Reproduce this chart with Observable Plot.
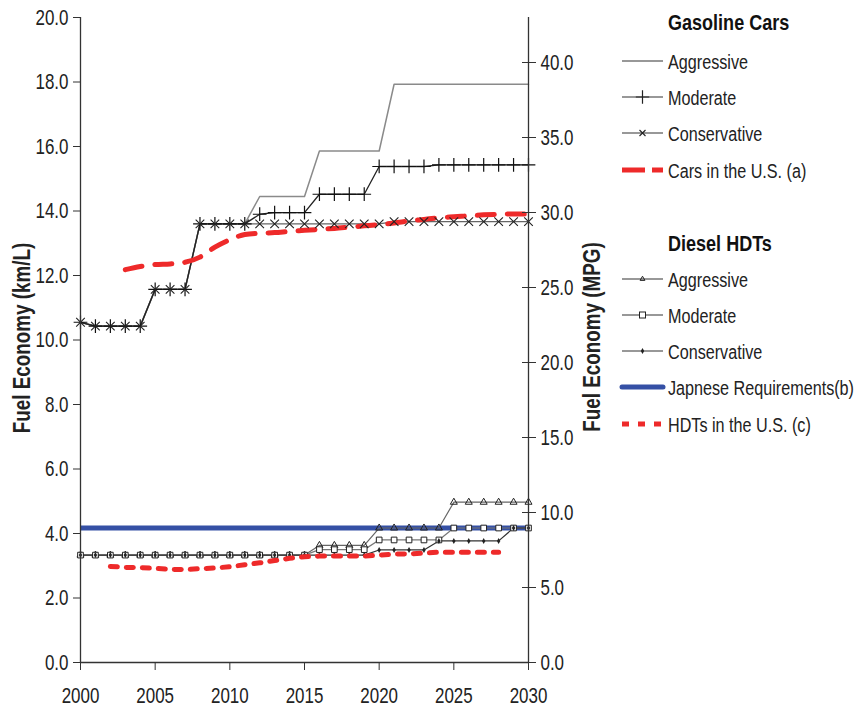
<!DOCTYPE html>
<html><head><meta charset="utf-8">
<script src="https://cdn.jsdelivr.net/npm/d3@7"></script>
<script src="https://cdn.jsdelivr.net/npm/@observablehq/plot@0.6"></script>
<style>
html,body{margin:0;padding:0;background:#fff;}
#wrap{position:relative;width:859px;height:709px;display:flex;}
#legend svg, #chart svg{display:block;}
</style></head><body>
<div id="wrap"><div id="chart"></div><div id="legend"></div></div>
<script>
const FONT = "'Liberation Sans',Arial,sans-serif";
const RED = "#ee2a2a", BLUE = "#3550a5";

// ---------- data ----------
const years = [2000,2001,2002,2003,2004,2005,2006,2007,2008,2009,2010,2011,2012,2013,2014,2015,
               2016,2017,2018,2019,2020,2021,2022,2023,2024,2025,2026,2027,2028,2029,2030];

// Gasoline cars (km/L)
const carAggressive   = [10.55,10.43,10.43,10.43,10.43,11.57,11.57,11.57,13.6,13.6,13.6,13.6,
                         14.45,14.45,14.45,14.45,15.86,15.86,15.86,15.86,15.86,
                         17.93,17.93,17.93,17.93,17.93,17.93,17.93,17.93,17.93,17.93];
const carModerate     = [10.55,10.43,10.43,10.43,10.43,11.57,11.57,11.57,13.6,13.6,13.6,13.6,
                         13.9,13.95,13.95,13.95,14.52,14.52,14.52,14.52,15.38,15.38,15.38,15.38,
                         15.43,15.43,15.43,15.43,15.43,15.43,15.43];
const carConservative = [10.55,10.43,10.43,10.43,10.43,11.57,11.57,11.57,13.6,13.6,13.6,13.6,
                         13.6,13.6,13.6,13.6,13.6,13.6,13.6,13.6,13.6,
                         13.67,13.67,13.67,13.67,13.67,13.67,13.67,13.67,13.67,13.67];
const carsUSYears = [2003,2004,2005,2006,2007,2008,2009,2010,2011,2012,2013,2014,2015,2016,2017,
                     2018,2019,2020,2021,2022,2023,2024,2025,2026,2027,2028,2029,2030];
const carsUS      = [12.18,12.28,12.34,12.36,12.41,12.57,12.88,13.11,13.27,13.31,13.33,13.37,13.4,
                     13.43,13.46,13.5,13.54,13.58,13.63,13.69,13.74,13.79,13.82,13.85,13.88,13.9,13.91,13.91];

// Diesel HDTs (km/L)
const hdtAggressive   = [3.33,3.33,3.33,3.33,3.33,3.33,3.33,3.33,3.33,3.33,3.33,3.33,3.33,3.33,3.33,3.33,
                         3.63,3.63,3.63,3.63,4.17,4.17,4.17,4.17,4.17,4.97,4.97,4.97,4.97,4.97,4.97];
const hdtModerate     = [3.33,3.33,3.33,3.33,3.33,3.33,3.33,3.33,3.33,3.33,3.33,3.33,3.33,3.33,3.33,3.33,
                         3.5,3.5,3.5,3.5,3.8,3.8,3.8,3.8,3.8,4.17,4.17,4.17,4.17,4.17,4.17];
const hdtConservative = [3.33,3.33,3.33,3.33,3.33,3.33,3.33,3.33,3.33,3.33,3.33,3.33,3.33,3.33,3.33,3.33,
                         3.33,3.33,3.33,3.33,3.49,3.49,3.49,3.49,3.77,3.77,3.77,3.77,3.77,4.17,4.17];
const japanRequirement = 4.17;
const hdtUSYears = [2002,2003,2004,2005,2006,2007,2008,2009,2010,2011,2012,2013,2014,2015,2016,
                    2017,2018,2019,2020,2021,2022,2023,2024,2025,2026,2027,2028];
const hdtUS      = [2.98,2.95,2.94,2.92,2.89,2.88,2.91,2.93,2.97,3.03,3.09,3.16,3.23,3.28,3.3,
                    3.3,3.3,3.3,3.33,3.36,3.37,3.39,3.42,3.42,3.42,3.42,3.42];

// ticks / labels
const xTicks = [2000,2005,2010,2015,2020,2025,2030];
const kmlTicks = [0,2,4,6,8,10,12,14,16,18,20];
const mpgTicks = [0,5,10,15,20,25,30,35,40];
const mpgPerKml = 2.15;  // right-axis scale ratio as drawn
const leftTitle = "Fuel Economy (km/L)";
const rightTitle = "Fuel Economy (MPG)";
const carTitle = "Gasoline Cars";
const carLabels = ["Aggressive","Moderate","Conservative","Cars in the U.S. (a)"];
const hdtTitle = "Diesel HDTs";
const hdtLabels = ["Aggressive","Moderate","Conservative","Japnese Requirements(b)","HDTs in the U.S. (c)"];

// ---------- tables ----------
const cars = years.map((year,i)=>({year, agg:carAggressive[i], mod:carModerate[i], con:carConservative[i]}));
const hdts = years.map((year,i)=>({year, agg:hdtAggressive[i], mod:hdtModerate[i], con:hdtConservative[i]}));
const usCars = carsUSYears.map((year,i)=>({year, v:carsUS[i]}));
const usHdts = hdtUSYears.map((year,i)=>({year, v:hdtUS[i]}));

const chart = Plot.plot({
  width: 620, height: 709,
  marginLeft: 80, marginRight: 92, marginTop: 17, marginBottom: 47,
  style: {fontFamily: FONT, fontSize: "22px", color: "#222", background: "#fff", overflow: "visible"},
  x: {domain: [2000, 2030]},
  y: {domain: [0, 20]},
  marks: [
    Plot.ruleY([japanRequirement], {stroke: BLUE, strokeWidth: 5}),
    // HDT lines
    Plot.line(hdts, {x:"year", y:"agg", stroke:"#666", strokeWidth:1.2}),
    Plot.line(hdts, {x:"year", y:"mod", stroke:"#777", strokeWidth:1.2}),
    Plot.line(hdts, {x:"year", y:"con", stroke:"#333", strokeWidth:1.2}),
    Plot.dot(hdts, {x:"year", y:"agg", symbol:"triangle", r:2.6, stroke:"#222", fill:"none", strokeWidth:1}),
    Plot.dot(hdts, {x:"year", y:"mod", symbol:"square", r:3.2, stroke:"#222", fill:"white", strokeWidth:1}),
    Plot.dot(hdts, {x:"year", y:"con", symbol:"diamond", r:1.8, fill:"#222", stroke:"none"}),
    Plot.line(usHdts, {x:"year", y:"v", stroke:RED, strokeWidth:5, strokeDasharray:"7,9"}),
    // car lines
    Plot.line(cars, {x:"year", y:"agg", stroke:"#8a8a8a", strokeWidth:1.5}),
    Plot.line(cars, {x:"year", y:"con", stroke:"#666", strokeWidth:1.4}),
    Plot.line(cars, {x:"year", y:"mod", stroke:"#222", strokeWidth:1.3}),
    Plot.line(usCars, {x:"year", y:"v", stroke:RED, strokeWidth:5, strokeDasharray:"17,13", curve:"monotone-x"}),
    Plot.dot(cars, {x:"year", y:"mod", symbol:"plus", r:4.5, stroke:"#111", strokeWidth:1.2}),
    Plot.dot(cars, {x:"year", y:"con", symbol:"times", r:4, stroke:"#222", strokeWidth:1.1}),
    // axes
    Plot.ruleX([2000, 2030], {stroke:"#333", strokeWidth:1.3}),
    Plot.ruleY([0], {stroke:"#333", strokeWidth:1.3}),
    Plot.axisY(kmlTicks, {anchor:"left", tickSize:7, tickPadding:5, tickFormat:d=>d.toFixed(1), label:null, stroke:"#333", fill:"#222", fontSize:22}),
    Plot.axisY(mpgTicks, {anchor:"right", y:d=>d/mpgPerKml, tickSize:14, dx:-7, fill:"none", label:null, stroke:"#333"}),
    Plot.axisY(mpgTicks, {anchor:"right", y:d=>d/mpgPerKml, tickSize:0, tickPadding:12, text:d=>d.toFixed(1), label:null, fill:"#222", fontSize:22}),
    Plot.axisX(xTicks, {anchor:"bottom", tickSize:8, tickPadding:17, tickFormat:d=>String(d), label:null, stroke:"#333", fill:"#222", fontSize:22}),
    Plot.text([leftTitle], {text:d=>d, frameAnchor:"left", textAnchor:"middle", dx:-58, dy:-2, rotate:-90, fontWeight:"bold", fontSize:23, fill:"#222"}),
    Plot.text([rightTitle], {text:d=>d, frameAnchor:"right", textAnchor:"middle", dx:64, dy:-3, rotate:-90, fontWeight:"bold", fontSize:23, fill:"#222"})
  ]
});
document.getElementById("chart").appendChild(chart);

// ---------- legend ----------
const lw = 239, lh = 709;
const lg = d3.select("#legend").append("svg").attr("width", lw).attr("height", lh)
  .style("font-family", FONT).style("overflow","visible");
const sx0 = 2, sx1 = 43, tx = 48;
function title(txt, cy){
  lg.append("text").attr("x", tx).attr("y", cy).attr("dy","0.36em").attr("font-size",22)
    .attr("font-weight","bold").attr("fill","#111").text(txt);
}
function label(txt, cy){
  lg.append("text").attr("x", tx).attr("y", cy).attr("dy","0.36em").attr("font-size",21)
    .attr("fill","#222").text(txt);
}
function seg(cy, stroke, w, dash, cap){
  const l = lg.append("line").attr("x1",sx0).attr("x2",sx1).attr("y1",cy).attr("y2",cy)
    .attr("stroke",stroke).attr("stroke-width",w);
  if (dash) l.attr("stroke-dasharray",dash);
  if (cap) l.attr("stroke-linecap",cap);
}
const mid = (sx0+sx1)/2;
const carY = [61,97,133,170], hdtY = [279,315,351,387,424];
title(carTitle, 22);
seg(carY[0], "#333", 1.2);
seg(carY[1], "#333", 1.2);
lg.append("path").attr("d", d3.symbol(d3.symbolPlus, 60)()).attr("transform",`translate(${mid},${carY[1]})`).attr("fill","none").attr("stroke","#222").attr("stroke-width",1.2);
seg(carY[2], "#333", 1.2);
lg.append("path").attr("d", d3.symbol(d3.symbolTimes, 25)()).attr("transform",`translate(${mid},${carY[2]})`).attr("fill","none").attr("stroke","#222").attr("stroke-width",1.1);
seg(carY[3], RED, 5, "23,7,11,0");
carLabels.forEach((t,i)=>label(t, carY[i]));
title(hdtTitle, 243);
seg(hdtY[0], "#333", 1.2);
lg.append("path").attr("d", d3.symbol(d3.symbolTriangle, 10)()).attr("transform",`translate(${mid},${hdtY[0]})`).attr("fill","none").attr("stroke","#222");
seg(hdtY[1], "#333", 1.2);
lg.append("rect").attr("x",mid-3).attr("y",hdtY[1]-3).attr("width",6).attr("height",6).attr("fill","white").attr("stroke","#222");
seg(hdtY[2], "#333", 1.2);
lg.append("path").attr("d", d3.symbol(d3.symbolDiamond, 10)()).attr("transform",`translate(${mid},${hdtY[2]})`).attr("fill","#222");
seg(hdtY[3], BLUE, 5, null, "round");
seg(hdtY[4], RED, 5, "7,9");
hdtLabels.forEach((t,i)=>label(t, hdtY[i]));

// ---------- condense text horizontally (reference uses a narrow face) ----------
function condense(root){
  root.querySelectorAll("text").forEach(t=>{
    const cs = getComputedStyle(t);
    const bold = parseInt(cs.fontWeight) >= 600;
    const s = bold ? 0.82 : 0.77;
    const bb = t.getBBox();
    const a = cs.textAnchor;
    const ax = a === "middle" ? bb.x + bb.width/2 : a === "end" ? bb.x + bb.width : bb.x;
    const prev = t.getAttribute("transform") || "";
    t.setAttribute("transform", `${prev} translate(${ax},0) scale(${s},1) translate(${-ax},0)`);
  });
}
condense(chart);
condense(lg.node());
</script></body></html>
